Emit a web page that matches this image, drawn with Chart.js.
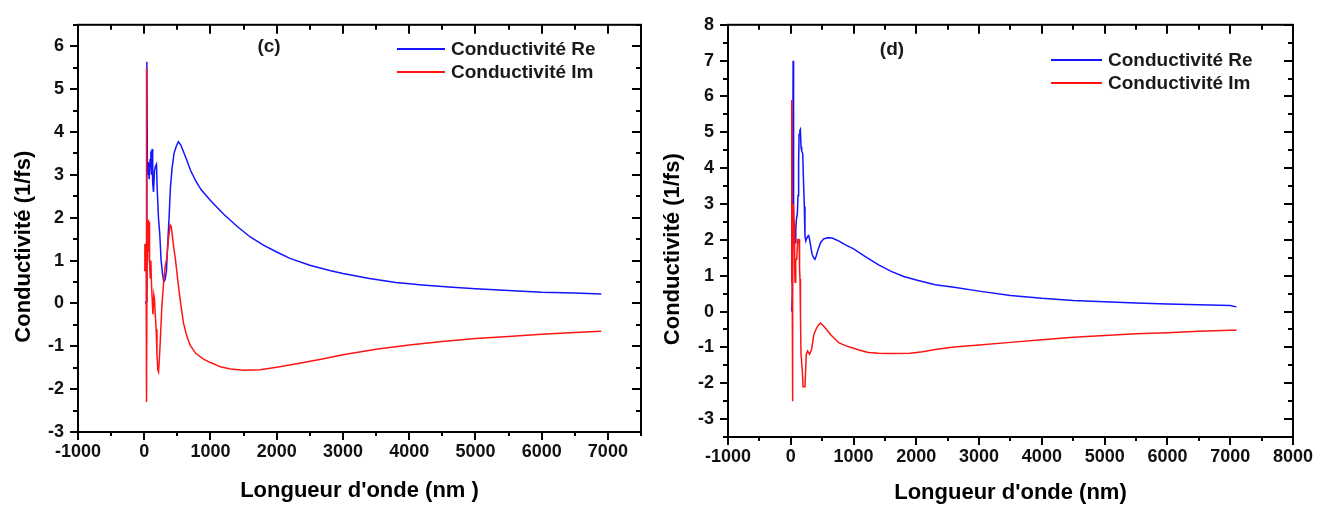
<!DOCTYPE html>
<html>
<head>
<meta charset="utf-8">
<script src="https://cdn.jsdelivr.net/npm/chart.js@4.4.1/dist/chart.umd.min.js"></script>
<style>
  body { margin: 0; background: #fff; }
  #wrap { position: relative; width: 1322px; height: 506px; }
  canvas { position: absolute; top: 0; }
</style>
</head>
<body>
<div id="wrap">
  <canvas id="chartC" width="660" height="506" style="left:0"></canvas>
  <canvas id="chartD" width="662" height="506" style="left:660px"></canvas>
</div>
<script>
// panel (c)
const waveC_re = [15, 35, 40, 48, 60, 75, 88, 100, 110, 118, 128, 140, 155, 170, 185, 195, 215, 235, 255, 275, 295, 315, 335, 355, 375, 395, 420, 450, 480, 515, 550, 590, 640, 700, 780, 860, 1000, 1200, 1400, 1600, 1800, 2000, 2200, 2500, 2800, 3000, 3400, 3800, 4200, 4600, 5000, 5500, 6000, 6500, 6900]
const reC = [0, 0.05, 5.64, 3.0, 3.3, 2.9, 3.35, 3.55, 3.0, 3.6, 2.8, 2.6, 3.1, 3.2, 3.25, 2.7, 2.0, 1.6, 1.0, 0.7, 0.5, 0.55, 0.75, 1.4, 2.0, 2.7, 3.15, 3.5, 3.65, 3.77, 3.7, 3.55, 3.35, 3.1, 2.85, 2.65, 2.4, 2.08, 1.8, 1.55, 1.36, 1.2, 1.05, 0.89, 0.77, 0.70, 0.58, 0.49, 0.43, 0.38, 0.34, 0.30, 0.26, 0.24, 0.22]
const waveC_im = [5, 8, 11, 14, 17, 20, 24, 28, 33, 36, 42, 50, 58, 65, 72, 80, 90, 100, 110, 120, 131, 145, 155, 166, 180, 192, 205, 216, 228, 241, 265, 291, 315, 342, 365, 392, 407, 430, 450, 468, 495, 518, 550, 593, 640, 694, 780, 895, 1000, 1150, 1300, 1500, 1750, 2000, 2300, 2650, 3000, 3500, 4000, 4500, 5000, 5500, 6000, 6500, 6900]
const imC = [0.8, 1.38, 0.75, 1.3, 0.9, 1.4, 0.85, 1.2, 5.5, -2.3, 1.0, 1.5, 1.95, 1.2, 1.9, 0.97, 0.6, 1.0, 0.45, 0.1, -0.25, 0.2, 0.1, -0.25, -0.6, -1.2, -1.55, -1.6, -1.3, -0.92, -0.1, 0.46, 0.85, 1.07, 1.5, 1.83, 1.8, 1.5, 1.25, 1.07, 0.7, 0.39, 0.0, -0.46, -0.75, -0.98, -1.17, -1.3, -1.38, -1.48, -1.53, -1.56, -1.55, -1.49, -1.41, -1.31, -1.20, -1.07, -0.97, -0.89, -0.82, -0.77, -0.72, -0.68, -0.65]
const xTicksC = [-1000, 0, 1000, 2000, 3000, 4000, 5000, 6000, 7000]
const yTicksC = [-3, -2, -1, 0, 1, 2, 3, 4, 5, 6]

// panel (d)
const waveD_re = [16, 25, 37, 45, 55, 68, 80, 89, 105, 116, 125, 132, 145, 153, 163, 174, 190, 205, 216, 226, 240, 255, 270, 285, 300, 320, 340, 365, 385, 405, 430, 474, 520, 580, 660, 760, 870, 1000, 1200, 1400, 1600, 1800, 2000, 2300, 2600, 3000, 3500, 4000, 4500, 5000, 5500, 6000, 6500, 7000, 7100]
const reD = [0, 0.5, 7.0, 2.0, 2.5, 1.92, 2.3, 2.56, 2.74, 3.24, 4.2, 4.94, 5.05, 5.08, 4.6, 4.48, 4.4, 3.5, 2.93, 2.1, 1.97, 2.05, 2.1, 2.12, 2.01, 1.8, 1.6, 1.5, 1.46, 1.55, 1.7, 1.92, 2.02, 2.06, 2.05, 1.97, 1.86, 1.75, 1.52, 1.3, 1.12, 0.98, 0.88, 0.75, 0.68, 0.57, 0.45, 0.37, 0.31, 0.27, 0.24, 0.21, 0.19, 0.17, 0.13]
const waveD_im = [10, 14, 18, 22, 27, 33, 40, 53, 62, 68, 79, 95, 110, 132, 140, 147, 155, 163, 184, 195, 226, 240, 247, 268, 285, 300, 332, 368, 400, 440, 474, 526, 580, 632, 700, 763, 870, 974, 1100, 1237, 1400, 1600, 1900, 2100, 2300, 2600, 3000, 3500, 4000, 4500, 5000, 5500, 6000, 6500, 7000, 7100]
const imD = [0.8, 4.3, 5.9, 1.0, -2.5, 1.5, 3.0, 2.47, 1.2, 0.82, 1.46, 1.46, 2.01, 2.01, 1.2, 0.91, -0.2, -1.19, -1.65, -2.1, -2.1, -1.5, -1.19, -1.10, -1.15, -1.19, -1.05, -0.64, -0.5, -0.38, -0.32, -0.41, -0.52, -0.64, -0.76, -0.87, -0.95, -1.01, -1.08, -1.14, -1.16, -1.17, -1.16, -1.12, -1.06, -0.99, -0.93, -0.86, -0.79, -0.72, -0.67, -0.62, -0.59, -0.55, -0.52, -0.52]
const xTicksD = [-1000, 0, 1000, 2000, 3000, 4000, 5000, 6000, 7000, 8000]
const yTicksD = [-3, -2, -1, 0, 1, 2, 3, 4, 5, 6, 7, 8]

const seriesLabels = ['Conductivité Re', 'Conductivité Im']
const seriesColors = ['rgb(20, 20, 255)', 'rgb(255, 20, 20)']
const yTitle = 'Conductivité (1/fs)'

function toPoints(xs, ys) {
    return xs.map((x, i) => ({x: x, y: ys[i]}))
}

// frame, Origin-style ticks, legend and panel tag
const framePlugin = {
    id: 'frame',
    afterDatasetsDraw(chart, args, opts) {
        const ctx = chart.ctx
        const a = chart.chartArea
        const x = chart.scales.x
        const y = chart.scales.y
        ctx.save()
        ctx.strokeStyle = '#000'
        ctx.lineWidth = 2
        ctx.strokeRect(a.left, a.top, a.right - a.left, a.bottom - a.top)
        const seg = (x1, y1, x2, y2) => {
            ctx.beginPath()
            ctx.moveTo(x1, y1)
            ctx.lineTo(x2, y2)
            ctx.stroke()
        }
        for (let v = x.min; v <= x.max + 1; v += 500) {
            const px = Math.round(x.getPixelForValue(v))
            const major = v % 1000 === 0
            seg(px, a.bottom, px, a.bottom + (major ? 8 : 4))
            seg(px, a.top, px, a.top + (major ? 9 : 5))
        }
        for (let v = y.min; v <= y.max + 0.01; v += 0.5) {
            const py = Math.round(y.getPixelForValue(v))
            const major = Number.isInteger(v)
            seg(a.left - (major ? 8 : 5), py, a.left, py)
            seg(a.right - (major ? 9 : 5), py, a.right, py)
        }
        // legend
        ctx.font = 'bold 19px "Liberation Sans", Arial, sans-serif'
        ctx.textBaseline = 'middle'
        ctx.textAlign = 'left'
        chart.data.datasets.forEach((ds, i) => {
            const ly = opts.legendY + i * opts.legendGap
            ctx.strokeStyle = ds.borderColor
            ctx.lineWidth = 2
            seg(opts.legendX, ly, opts.legendX + opts.legendLen, ly)
            ctx.fillStyle = '#1a1a1a'
            ctx.fillText(ds.label, opts.legendX + opts.legendLen + 6, ly + 1)
        })
        ctx.textAlign = 'center'
        ctx.fillText(opts.tag, opts.tagX, opts.tagY)
        ctx.restore()
    }
}

function makeChart(id, sets, box) {
    const ctx = document.getElementById(id).getContext('2d')
    const tickFont = {family: '"Liberation Sans", Arial, sans-serif', size: 18, weight: 'bold'}
    const titleFont = {family: '"Liberation Sans", Arial, sans-serif', size: 22, weight: 'bold'}
    return new Chart(ctx, {
        type: 'scatter',
        data: {
            datasets: sets.map((s, i) => ({
                label: seriesLabels[i],
                data: s,
                showLine: true,
                order: 1 - i,   // red drawn over blue
                borderColor: seriesColors[i],
                backgroundColor: seriesColors[i],
                borderWidth: 1.5,
                pointRadius: 0,
                tension: 0
            }))
        },
        options: {
            responsive: false,
            animation: false,
            layout: {padding: {left: 0, right: box.padRight, top: box.padTop, bottom: 0}},
            plugins: {
                legend: {display: false},
                tooltip: {enabled: false},
                frame: box.frame
            },
            scales: {
                x: {
                    type: 'linear',
                    min: box.xMin,
                    max: box.xMax,
                    grid: {display: false, drawTicks: false},
                    border: {display: false},
                    afterBuildTicks: s => { s.ticks = box.xTicks.map(v => ({value: v})) },
                    afterFit: s => { s.height = box.xHeight },
                    ticks: {padding: 9, color: '#111', font: tickFont, maxRotation: 0, minRotation: 0,
                        autoSkip: false, callback: v => String(v)},
                    title: {display: true, text: box.xTitle, color: '#000', font: titleFont,
                        padding: {top: 0, bottom: box.xTitlePad}}
                },
                y: {
                    min: box.yMin,
                    max: box.yMax,
                    grid: {display: false, drawTicks: false},
                    border: {display: false},
                    afterBuildTicks: s => { s.ticks = box.yTicks.map(v => ({value: v})) },
                    afterFit: s => { s.width = box.yWidth },
                    ticks: {padding: 14, color: '#111', font: tickFont, autoSkip: false, callback: v => String(v)},
                    title: {display: true, text: yTitle + '      ', color: '#000', font: titleFont,
                        padding: {top: box.yTitlePad, bottom: 0}}
                }
            }
        },
        plugins: [framePlugin]
    })
}

document.addEventListener('DOMContentLoaded', function() {
    makeChart('chartC', [toPoints(waveC_re, reC), toPoints(waveC_im, imC)], {
        xMin: -1000, xMax: 7500, yMin: -3, yMax: 6.5, xTicks: xTicksC, yTicks: yTicksC,
        padRight: 19, padTop: 14, yWidth: 78, xHeight: 74,
        xTitle: "Longueur d'onde (nm )", xTitlePad: 2, yTitlePad: 11,
        frame: {legendX: 397, legendY: 49, legendGap: 23, legendLen: 48, tag: '(c)', tagX: 269, tagY: 47}
    })
    makeChart('chartD', [toPoints(waveD_re, reD), toPoints(waveD_im, imD)], {
        xMin: -1000, xMax: 8000, yMin: -3.5, yMax: 8, xTicks: xTicksD, yTicks: yTicksD,
        padRight: 24, padTop: 17, yWidth: 68, xHeight: 69,
        xTitle: "Longueur d'onde (nm)", xTitlePad: 0, yTitlePad: 0,
        frame: {legendX: 391, legendY: 60, legendGap: 23, legendLen: 51, tag: '(d)', tagX: 232, tagY: 50}
    })
})
</script>
</body>
</html>
